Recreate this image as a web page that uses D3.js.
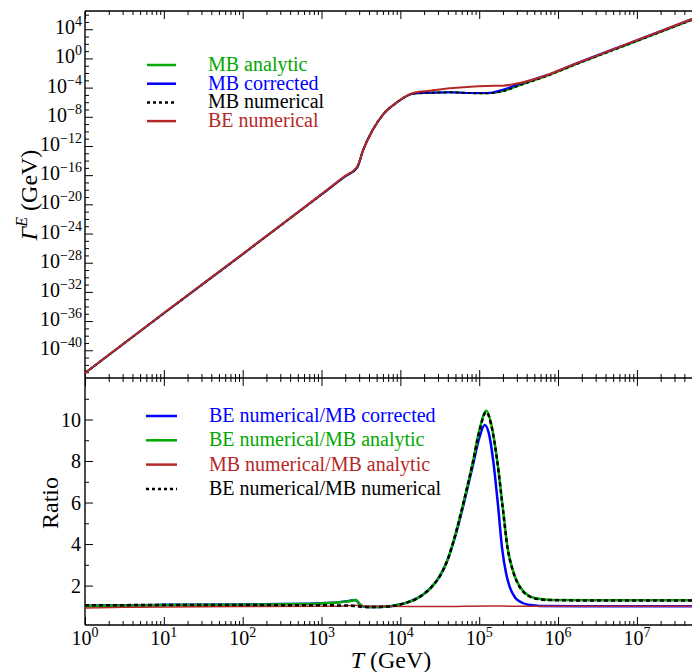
<!DOCTYPE html>
<html>
<head>
<meta charset="utf-8">
<script src="https://cdn.jsdelivr.net/npm/d3@7"></script>
<style>
  body { margin: 0; background: #fff; }
  text { font-family: "Liberation Serif", "DejaVu Serif", serif; }
</style>
</head>
<body>
<svg id="chart" width="692" height="672"></svg>
<script>
// ---- data (log10 T) ----
// top panel: log10 of Gamma^E (GeV)
const topLogT = [0, 1, 2, 3, 3.3, 3.45, 3.53, 3.65, 3.78, 3.96, 4.16, 4.38, 4.63, 4.89, 5.1, 5.3, 5.52, 5.86, 6.15, 7.0, 7.7];
const topMBanalytic = [-43.11, -34.92, -26.83, -18.65, -16.18, -15.01, -12.49, -9.79, -7.69, -6.0, -4.83, -4.7, -4.65, -4.75, -4.78, -4.49, -3.66, -2.39, -1.14, 2.39, 5.29];
const topMBcorrected = [-43.11, -34.92, -26.83, -18.65, -16.18, -15.01, -12.5, -9.79, -7.69, -6.0, -4.83, -4.7, -4.64, -4.74, -4.75, -4.29, -3.44, -2.28, -1.03, 2.5, 5.4];
const topMBnumerical = [-43.12, -34.93, -26.83, -18.62, -16.12, -14.9, -12.49, -9.79, -7.69, -6.0, -4.83, -4.7, -4.65, -4.75, -4.78, -4.49, -3.66, -2.39, -1.14, 2.39, 5.29];
const topBEnumerical = [-43.1, -34.9, -26.8, -18.6, -16.1, -14.9, -12.5, -9.8, -7.7, -5.97, -4.73, -4.42, -4.09, -3.87, -3.77, -3.73, -3.36, -2.27, -1.03, 2.5, 5.4];

// bottom panel: ratios
const ratBEnumMBnumT = [0, 1, 2, 3, 3.3, 3.45, 3.53, 3.65, 3.8, 3.96, 4.1, 4.21, 4.3, 4.4, 4.5, 4.6, 4.72, 4.82, 4.92, 5.0, 5.09, 5.16, 5.23, 5.3, 5.36, 5.42, 5.48, 5.56, 5.65, 5.78, 5.9, 6.5, 7.7];
const ratBEnumMBnum = [1.05, 1.06, 1.06, 1.05, 1.04, 1.0, 0.97, 0.97, 0.98, 1.06, 1.2, 1.38, 1.6, 1.95, 2.45, 3.25, 4.77, 6.3, 7.95, 9.4, 10.36, 9.6, 7.95, 5.7, 3.8, 2.8, 2.17, 1.7, 1.45, 1.33, 1.3, 1.28, 1.28];
const ratBEnumMBanaT = [0, 1, 2, 2.5, 3.0, 3.2, 3.35, 3.43, 3.5, 3.58, 3.65, 3.8, 3.96, 4.1, 4.21, 4.3, 4.4, 4.5, 4.6, 4.72, 4.82, 4.92, 5.0, 5.09, 5.16, 5.23, 5.3, 5.36, 5.42, 5.48, 5.56, 5.65, 5.78, 5.9, 6.5, 7.7];
const ratBEnumMBana = [1.02, 1.06, 1.08, 1.1, 1.14, 1.18, 1.25, 1.3, 1.05, 0.97, 0.97, 0.98, 1.06, 1.2, 1.38, 1.6, 1.95, 2.45, 3.25, 4.77, 6.3, 7.95, 9.45, 10.42, 9.65, 7.98, 5.72, 3.82, 2.82, 2.19, 1.72, 1.47, 1.35, 1.31, 1.29, 1.29];
const ratBEnumMBcorT = [0, 1, 2, 2.5, 3.0, 3.2, 3.35, 3.43, 3.5, 3.58, 3.65, 3.8, 3.96, 4.1, 4.21, 4.3, 4.4, 4.5, 4.6, 4.72, 4.82, 4.92, 5.0, 5.07, 5.13, 5.18, 5.24, 5.29, 5.34, 5.39, 5.46, 5.55, 5.65, 5.77, 6.5, 7.7];
const ratBEnumMBcor = [1.03, 1.07, 1.09, 1.11, 1.15, 1.19, 1.26, 1.31, 1.05, 0.97, 0.97, 0.98, 1.06, 1.2, 1.38, 1.6, 1.95, 2.45, 3.25, 4.7, 6.2, 7.8, 9.1, 9.74, 9.2, 7.95, 5.8, 3.8, 2.6, 1.9, 1.4, 1.16, 1.06, 1.02, 1.0, 1.0];
const ratMBnumMBanaT = [0, 0.5, 1, 2, 3, 3.3, 3.43, 3.6, 4.5, 5.1, 5.5, 7.7];
const ratMBnumMBana = [0.92, 0.95, 0.97, 0.99, 1.0, 1.02, 1.05, 1.0, 0.99, 1.02, 1.0, 1.0];

const xMajor = [0, 1, 2, 3, 4, 5, 6, 7];
const yTopMajor = [4, 0, -4, -8, -12, -16, -20, -24, -28, -32, -36, -40];
const yBotMajor = [2, 4, 6, 8, 10];

const GREEN = '#00a800', BLUE = '#0000ff', RED = '#b52828', BLACK = '#000';

// ---- layout ----
const L = 85, R = 692, T1 = 11, B1 = 378, B2 = 625;
const svg = d3.select('#chart');

const x = d3.scaleLog().domain([1, 5e7]).range([L, R]);
const yTop = d3.scaleLog().domain([Math.pow(10, -43.8), Math.pow(10, 6.5)]).range([B1, T1]);
const yBot = d3.scaleLinear().domain([0.1, 12]).range([B2, B1]);

svg.append('clipPath').attr('id', 'clipTop')
  .append('rect').attr('x', L).attr('y', T1).attr('width', R - L).attr('height', B1 - T1);
svg.append('clipPath').attr('id', 'clipBot')
  .append('rect').attr('x', L).attr('y', B1).attr('width', R - L).attr('height', B2 - B1);

// x minor ticks 2..9 per decade
const xMinor = [];
for (let d = 0; d <= 7; d++) for (let k = 2; k <= 9; k++) if (k * Math.pow(10, d) <= 5e7) xMinor.push(k * Math.pow(10, d));
const xMajorV = xMajor.map(e => Math.pow(10, e));

function xTicks (yPos, dir) {
  // dir = -1 ticks point up, +1 point down
  svg.append('g').attr('transform', `translate(0,${yPos})`)
    .call(dir < 0 ? d3.axisBottom(x).tickValues(xMinor).tickSize(-4).tickSizeOuter(0).tickFormat('')
      : d3.axisTop(x).tickValues(xMinor).tickSize(-4).tickSizeOuter(0).tickFormat(''))
    .call(g => g.select('.domain').remove());
  svg.append('g').attr('transform', `translate(0,${yPos})`)
    .call(dir < 0 ? d3.axisBottom(x).tickValues(xMajorV).tickSize(-8).tickSizeOuter(0).tickFormat('')
      : d3.axisTop(x).tickValues(xMajorV).tickSize(-8).tickSizeOuter(0).tickFormat(''))
    .call(g => g.select('.domain').remove());
}
xTicks(T1, 1);
xTicks(B1, -1);
xTicks(B1, 1);
xTicks(B2, -1);

// top y ticks
const yTopMinor = d3.range(-43, 7).filter(e => !yTopMajor.includes(e)).map(e => Math.pow(10, e));
svg.append('g').attr('transform', `translate(${L},0)`)
  .call(d3.axisLeft(yTop).tickValues(yTopMinor).tickSize(-4).tickSizeOuter(0).tickFormat(''))
  .call(g => g.select('.domain').remove());
svg.append('g').attr('transform', `translate(${L},0)`)
  .call(d3.axisLeft(yTop).tickValues(yTopMajor.map(e => Math.pow(10, e))).tickSize(-8).tickSizeOuter(0).tickFormat(''))
  .call(g => g.select('.domain').remove());

// bottom y ticks
svg.append('g').attr('transform', `translate(${L},0)`)
  .call(d3.axisLeft(yBot).tickValues([1, 3, 5, 7, 9, 11]).tickSize(-4).tickSizeOuter(0).tickFormat(''))
  .call(g => g.select('.domain').remove());
svg.append('g').attr('transform', `translate(${L},0)`)
  .call(d3.axisLeft(yBot).tickValues(yBotMajor).tickSize(-8).tickSizeOuter(0).tickFormat(''))
  .call(g => g.select('.domain').remove());

svg.selectAll('.tick line').attr('stroke', '#000').attr('stroke-width', 1);

// frame lines
const frame = svg.append('g').attr('stroke', '#000').attr('stroke-width', 1.4);
frame.append('line').attr('x1', L).attr('x2', R).attr('y1', T1).attr('y2', T1);
frame.append('line').attr('x1', L).attr('x2', R).attr('y1', B1).attr('y2', B1);
frame.append('line').attr('x1', L).attr('x2', R).attr('y1', B2).attr('y2', B2);
frame.append('line').attr('x1', L).attr('x2', L).attr('y1', T1).attr('y2', B2);

// tick labels
function powLabel (g, xPos, yPos, exp, anchor) {
  const t = g.append('text').attr('x', xPos).attr('y', yPos)
    .attr('text-anchor', anchor).attr('font-size', 20).attr('fill', '#000');
  t.append('tspan').text('10');
  t.append('tspan').attr('dy', -8).attr('font-size', 14).text(exp < 0 ? '\u2212' + (-exp) : exp);
}
const labels = svg.append('g');
xMajor.forEach(e => powLabel(labels, x(Math.pow(10, e)), 645, e, 'middle'));
yTopMajor.forEach(e => powLabel(labels, 82, yTop(Math.pow(10, e)) + 5, e, 'end'));
yBotMajor.forEach(v => labels.append('text').attr('x', 81).attr('y', yBot(v) + 7)
  .attr('text-anchor', 'end').attr('font-size', 20).text(v));

// axis titles
const yt = svg.append('text').attr('transform', 'translate(37,195) rotate(-90)')
  .attr('text-anchor', 'middle').attr('font-size', 24);
yt.append('tspan').attr('font-style', 'italic').text('\u0393');
yt.append('tspan').attr('font-style', 'italic').attr('font-size', 16).attr('dy', -10).text('E');
yt.append('tspan').attr('dy', 10).text(' (GeV)');

svg.append('text').attr('transform', 'translate(58,503) rotate(-90)')
  .attr('text-anchor', 'middle').attr('font-size', 24).text('Ratio');

const xt = svg.append('text').attr('x', 391).attr('y', 668).attr('text-anchor', 'middle').attr('font-size', 24);
xt.append('tspan').attr('font-style', 'italic').text('T');
xt.append('tspan').text(' (GeV)');

// ---- curves ----
const lineTop = d3.line().curve(d3.curveMonotoneX)
  .x(d => x(Math.pow(10, d[0]))).y(d => yTop(Math.pow(10, d[1])));
const lineBot = d3.line().curve(d3.curveMonotoneX)
  .x(d => x(Math.pow(10, d[0]))).y(d => yBot(d[1]));

const topSeries = [
  { vals: topMBanalytic, color: GREEN, dash: null },
  { vals: topMBcorrected, color: BLUE, dash: null },
  { vals: topMBnumerical, color: BLACK, dash: '3,3' },
  { vals: topBEnumerical, color: RED, dash: null }
];
const gTop = svg.append('g').attr('clip-path', 'url(#clipTop)');
topSeries.forEach(s => {
  gTop.append('path')
    .datum(topLogT.map((t, i) => [t, s.vals[i]]))
    .attr('d', lineTop)
    .attr('fill', 'none')
    .attr('stroke', s.color)
    .attr('stroke-width', 2)
    .attr('stroke-dasharray', s.dash);
});

const botSeries = [
  { t: ratBEnumMBcorT, v: ratBEnumMBcor, color: BLUE, dash: null, w: 2.5 },
  { t: ratBEnumMBanaT, v: ratBEnumMBana, color: GREEN, dash: null, w: 2.5 },
  { t: ratMBnumMBanaT, v: ratMBnumMBana, color: RED, dash: null, w: 1.5 },
  { t: ratBEnumMBnumT, v: ratBEnumMBnum, color: BLACK, dash: '4,3', w: 2.5 }
];
const gBot = svg.append('g').attr('clip-path', 'url(#clipBot)');
botSeries.forEach(s => {
  gBot.append('path')
    .datum(s.t.map((t, i) => [t, s.v[i]]))
    .attr('d', lineBot)
    .attr('fill', 'none')
    .attr('stroke', s.color)
    .attr('stroke-width', s.w)
    .attr('stroke-dasharray', s.dash);
});

// ---- legends ----
function legend (items, x0, x1, tx, y0, dy, fs) {
  const g = svg.append('g');
  items.forEach((it, i) => {
    const yy = y0 + i * dy;
    g.append('line').attr('x1', x0).attr('x2', x1).attr('y1', yy).attr('y2', yy)
      .attr('stroke', it.color).attr('stroke-width', 2.5).attr('stroke-dasharray', it.dash);
    g.append('text').attr('x', tx).attr('y', yy + 6).attr('font-size', fs)
      .attr('fill', it.color).text(it.label);
  });
}
legend([
  { label: 'MB analytic', color: GREEN },
  { label: 'MB corrected', color: BLUE },
  { label: 'MB numerical', color: BLACK, dash: '3,3' },
  { label: 'BE numerical', color: RED }
], 147, 176, 208, 65, 18.7, 20);

legend([
  { label: 'BE numerical/MB corrected', color: BLUE },
  { label: 'BE numerical/MB analytic', color: GREEN },
  { label: 'MB numerical/MB analytic', color: RED },
  { label: 'BE numerical/MB numerical', color: BLACK, dash: '3,3' }
], 146, 177, 209, 416, 24.3, 20);
</script>
</body>
</html>
